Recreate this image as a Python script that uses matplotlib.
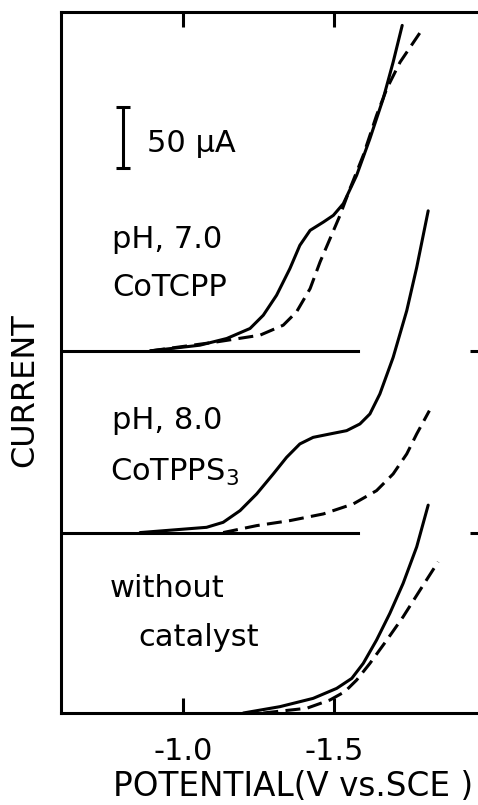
import numpy as np
import matplotlib
matplotlib.use("Agg")
import matplotlib.pyplot as plt

# potentials (V vs SCE) and currents (uA, relative to each trace's own baseline)
top_solid_v = [-0.891, -1.056, -1.145, -1.222, -1.266, -1.310, -1.354, -1.387, -1.421, -1.465,
               -1.498, -1.531, -1.575, -1.619, -1.663, -1.696, -1.726]
top_solid_i = [0, 4.7, 10.2, 18.4, 29.3, 45.7, 67.5, 86.6, 98.9, 105.7, 111.2, 120.8, 144.0,
               174.1, 206.9, 236.9, 267.0]
top_dash_v = [-0.891, -1.112, -1.255, -1.332, -1.376, -1.421, -1.454, -1.487, -1.520, -1.553,
              -1.597, -1.641, -1.675, -1.719, -1.790]
top_dash_i = [0, 7.4, 12.9, 21.1, 32.0, 51.1, 73.0, 92.1, 111.2, 133.1, 160.4, 193.2, 215.1,
              236.9, 262.9]

mid_solid_v = [-0.858, -1.078, -1.133, -1.189, -1.244, -1.299, -1.343, -1.387, -1.431, -1.487,
               -1.542, -1.586, -1.619, -1.652, -1.696, -1.741, -1.774, -1.812]
mid_solid_i = [0, 4.3, 8.4, 18.0, 31.7, 48.1, 61.7, 72.7, 78.1, 80.9, 83.6, 89.1, 97.3, 113.7,
               143.7, 182.0, 217.5, 263.9]
mid_dash_v = [-1.133, -1.244, -1.354, -1.465, -1.564, -1.641, -1.696, -1.741, -1.774, -1.816]
mid_dash_i = [0, 5.7, 9.8, 15.3, 23.5, 34.4, 48.1, 64.5, 80.9, 100.0]

bot_solid_v = [-1.200, -1.321, -1.431, -1.509, -1.559, -1.597, -1.641, -1.685, -1.729, -1.774,
               -1.812]
bot_solid_i = [0, 5.2, 12.0, 20.2, 28.4, 40.7, 59.8, 81.7, 106.3, 136.3, 170.5]
bot_dash_v = [-1.266, -1.410, -1.487, -1.536, -1.575, -1.619, -1.675, -1.729, -1.785, -1.845]
bot_dash_i = [0, 3.9, 10.7, 17.5, 27.0, 40.7, 59.8, 78.9, 100.8, 124.0]

offsets = [297, 148, 0]          # baseline of each trace (uA)
baseline_end = -1.58             # where the drawn baselines stop
xticks = [-1.0, -1.5]
xticklabels = ["-1.0", "-1.5"]
scale_uA = 50

traces = [
    (top_solid_v, top_solid_i, top_dash_v, top_dash_i),
    (mid_solid_v, mid_solid_i, mid_dash_v, mid_dash_i),
    (bot_solid_v, bot_solid_i, bot_dash_v, bot_dash_i),
]

LW = 2.2
plt.rcParams["font.family"] = ["DejaVu Sans"]
fig = plt.figure(figsize=(4.78, 8.05), dpi=100)
ax = fig.add_axes([61 / 478, 1 - 713 / 805, 1 - 61 / 478, 701 / 805])

for (sv, si, dv, di), off in zip(traces, offsets):
    ax.plot(sv, np.array(si) + off, color="black", lw=LW, solid_capstyle="round",
            solid_joinstyle="round")
    ax.plot(dv, np.array(di) + off, color="black", lw=LW, linestyle=(0, (4.9, 2.4)))
for off in offsets[:2]:
    ax.plot([-0.596, baseline_end], [off, off], color="black", lw=LW)

# scale bar
ax.errorbar([-0.801], [446.7 + scale_uA / 2], yerr=scale_uA / 2, color="black",
            lw=LW, capsize=5, capthick=LW)
fs = 22
ax.text(-0.881, 467, "50 µA", fontsize=fs, va="center", ha="left")
ax.text(-0.765, 388, "pH, 7.0", fontsize=fs, va="center", ha="left")
ax.text(-0.765, 349, "CoTCPP", fontsize=fs, va="center", ha="left")
ax.text(-0.765, 240, "pH, 8.0", fontsize=fs, va="center", ha="left")
ax.text(-0.758, 197, "CoTPPS$_3$", fontsize=fs, va="center", ha="left")
ax.text(-0.758, 102, "without", fontsize=fs, va="center", ha="left")
ax.text(-0.851, 62, "catalyst", fontsize=fs, va="center", ha="left")

ax.set_xlim(-0.596, -1.977)
ax.set_ylim(0, 575)
ax.set_xticks(xticks)
ax.set_xticklabels(xticklabels, fontsize=fs)
ax.set_yticks(offsets[:2])
ax.set_yticklabels([])
ax.tick_params(axis="x", direction="in", length=11, width=LW, top=True, pad=17)
ax.tick_params(axis="y", direction="in", length=6, width=LW, left=False, right=True)
ax.spines["right"].set_visible(False)
for s in ("left", "top", "bottom"):
    ax.spines[s].set_linewidth(LW)

ax.set_xlabel("POTENTIAL(V vs.SCE )", fontsize=23.5)
ax.xaxis.set_label_coords(232 / 417, -0.081)
ax.set_ylabel("CURRENT", fontsize=23)
ax.yaxis.set_label_coords(-0.05, 0.461)

fig.savefig("out.png", dpi=100)
